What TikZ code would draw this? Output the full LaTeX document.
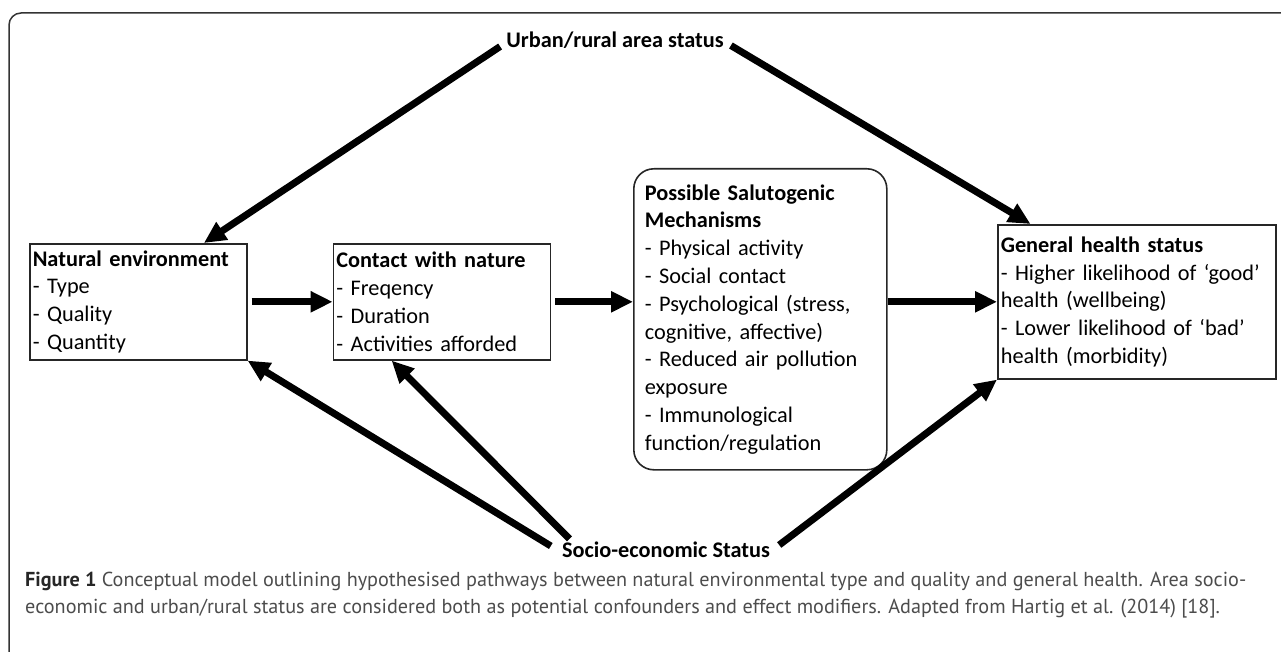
\documentclass[tikz,border=0pt]{standalone}
\usepackage{fontspec}
\setmainfont{Carlito}
\newfontfamily\captionfont{PT Sans}
\usetikzlibrary{positioning,arrows.meta,calc}
\tikzset{
  plain box/.style={
    draw=black!85,
    line width=1.6pt,
    anchor=north west,
    align=left,
    inner xsep=3pt,
    text width=#1,
    minimum height=116pt,
    font=\fontsize{22.3}{27.8}\selectfont,
  },
  mech box/.style={
    draw=black!85,
    line width=1.6pt,
    rounded corners=20pt,
    anchor=north west,
    align=left,
    inner xsep=11pt,
    text width=231pt,
    minimum height=301pt,
    font=\fontsize{22.3}{27.8}\selectfont,
  },
  factor/.style={
    font=\fontsize{22.3}{27.8}\selectfont\bfseries,
    inner sep=3pt,
  },
  flow/.style={
    line width=7pt,
    -{Triangle[length=22pt,width=20pt]},
  },
  caption/.style={
    font=\captionfont\fontsize{20.2}{27}\selectfont,
    text=black!70,
    align=left,
    inner sep=0pt,
    anchor=north west,
  }
}

\begin{document}
\begin{tikzpicture}[x=1pt,y=-1pt]
    \useasboundingbox (0,0) rectangle (1281,652);
    \draw [black!80, line width=1.5pt, rounded corners=12pt] (1281,13) -- (9,13) -- (9,652);

    \node [plain box=211pt] (natural) at (29,243)
      {\textbf{Natural environment}\\- Type\\- Quality\\- Quantity};
    \node [plain box=211pt, right=85pt of natural] (contact)
      {\textbf{Contact with nature}\\- Freqency\\- Duration\\- Activities afforded};
    \node [mech box] (mech) at (633,168)
      {\textbf{Possible Salutogenic}\\\textbf{Mechanisms}\\- Physical activity\\- Social contact\\
       - Psychological (stress,\\cognitive, affective)\\- Reduced air pollution\\exposure\\
       - Immunological\\function/regulation};
    \node [plain box=272pt, minimum height=154pt] (health) at (997,224)
      {\textbf{General health status}\\- Higher likelihood of ‘good’\\health (wellbeing)\\
       - Lower likelihood of ‘bad’\\health (morbidity)};

    \node [factor] (urban) at (615,40) {Urban/rural area status};
    \node [factor] (socio) at (666,550) {Socio-economic Status};

    \draw [flow, shorten <=4pt] (natural) -- (contact);
    \draw [flow, shorten <=4pt] (contact.east) -- (contact.east -| mech.west);
    \draw [flow] (mech.east |- health.west) -- (health.west);

    \draw [flow] ($(urban.south west)+(-3,-5)$) -- ($(natural.north west)!0.8!(natural.north east)$);
    \draw [flow] ($(urban.south east)+(4,-6)$) -- ($(health.north west)!0.12!(health.north east)$);
    \draw [flow] ($(socio.west)+(-8,-4)$) -- (natural.south east);
    \draw [flow] ($(socio.north west)!0.05!(socio.north east)$) -- ($(contact.south west)!0.27!(contact.south east)$);
    \draw [flow] ($(socio.east)+(6,-5)$) -- (health.south west);

    \node [caption] (cap) at (25,572)
      {{\color{black!85}\bfseries Figure 1} Conceptual model outlining hypothesised pathways between natural environmental type and quality and general health. Area socio-\\
       economic and urban/rural status are considered both as potential confounders and effect modifiers. Adapted from Hartig et al. (2014) [18].};
\end{tikzpicture}
\end{document}
